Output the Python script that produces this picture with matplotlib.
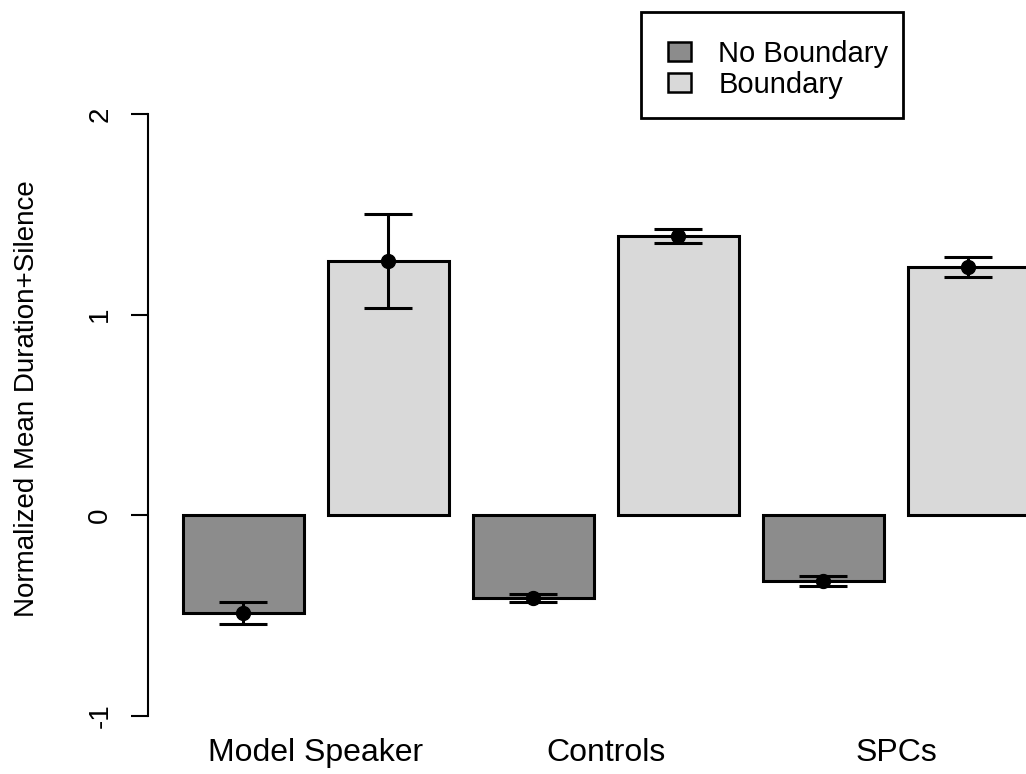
import matplotlib
matplotlib.use('Agg')
import matplotlib.pyplot as plt
from matplotlib.patches import Patch, Rectangle
import numpy as np

# values
groups = ['Model Speaker', 'Controls', 'SPCs']
no_boundary = [-0.485, -0.414, -0.329]
no_boundary_se = [0.055, 0.02, 0.025]
boundary = [1.267, 1.392, 1.237]
boundary_se = [0.234, 0.035, 0.05]
series_names = ['No Boundary', 'Boundary']
yticks = [-1, 0, 1, 2]

dark = '#8c8c8c'
light = '#d9d9d9'

plt.rcParams['font.family'] = ['Liberation Sans', 'DejaVu Sans']

W, H = 1026, 774
fig = plt.figure(figsize=(W / 100, H / 100), dpi=100)
# axes runs past the right edge so the last bar is cut like the reference
ax = fig.add_axes([0.14425, 0.05026, 0.9410, 0.93204])

n = len(groups)
x_nb = np.arange(n) * 2
x_b = x_nb + 1
w = 0.834

ax.bar(x_nb, no_boundary, width=w, color=dark, edgecolor='black', linewidth=2.2, zorder=2)
ax.bar(x_b, boundary, width=w, color=light, edgecolor='black', linewidth=2.2, zorder=2)

ax.errorbar(x_nb, no_boundary, yerr=no_boundary_se, fmt='o', color='black', ms=10,
            elinewidth=2.2, capsize=17, capthick=2.2, zorder=3)
ax.errorbar(x_b, boundary, yerr=boundary_se, fmt='o', color='black', ms=10,
            elinewidth=2.2, capsize=17, capthick=2.2, zorder=3)

ax.set_xlim(-0.6586, 6.0)
ax.set_ylim(-1.095, 2.5)

for s in ['top', 'right', 'bottom']:
    ax.spines[s].set_visible(False)
ax.spines['left'].set_bounds(-1, 2)
ax.spines['left'].set_linewidth(1.5)

ax.set_yticks(yticks)
ax.set_yticklabels([str(t) for t in yticks], rotation=90, va='center', fontsize=20)
ax.tick_params(axis='y', length=12, width=1.5, pad=13)

ax.set_xticks((x_nb + x_b) / 2)
ax.set_xticklabels(groups, fontsize=23)
ax.tick_params(axis='x', length=0, pad=2)

ax.set_ylabel('Normalized Mean Duration+Silence', fontsize=20)
ax.yaxis.set_label_coords(-0.112, 0.466)

# legend: box drawn separately so the padding can match R's legend()
box = Rectangle((641 / W, 1 - 118 / H), (903 - 641) / W, (118 - 12) / H,
                transform=fig.transFigure, facecolor='white', edgecolor='black',
                linewidth=2, zorder=5)
fig.add_artist(box)
handles = [Patch(facecolor=dark, edgecolor='black', linewidth=1.8),
           Patch(facecolor=light, edgecolor='black', linewidth=1.8)]
leg = fig.legend(handles, series_names, loc='center left',
                 bbox_to_anchor=(668 / W, 1 - 69.5 / H), bbox_transform=fig.transFigure,
                 fontsize=21, frameon=False, borderaxespad=0, borderpad=0,
                 handlelength=0.8, handleheight=0.62, handletextpad=0.93,
                 labelspacing=0.1)
leg.set_zorder(6)

fig.savefig('out.png', dpi=100)
